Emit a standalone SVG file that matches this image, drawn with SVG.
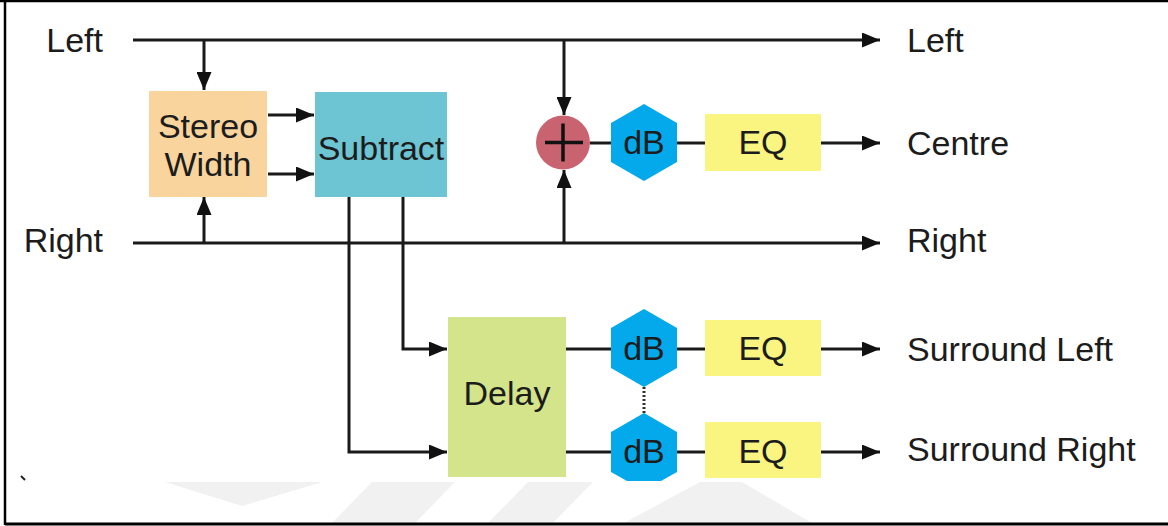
<svg xmlns="http://www.w3.org/2000/svg" width="1168" height="526" viewBox="0 0 1168 526">
<defs>
<marker id="arr" markerUnits="userSpaceOnUse" markerWidth="18" markerHeight="15" refX="18" refY="7.5" orient="auto">
<path d="M0,0 L18,7.5 L0,15 z" fill="#111"/>
</marker>
<style>
text{font-family:"Liberation Sans",Arial,sans-serif;font-size:34px;fill:#1c1c1c}
.c{text-anchor:middle}
.e{text-anchor:end}
.ln{fill:none;stroke:#1a1a1a;stroke-width:3}
.a{marker-end:url(#arr)}
.hex{fill:#03A9EA}
.eq{fill:#FAF481}
.wm{fill:#F1F1F1}
</style>
</defs>
<rect x="0" y="0" width="1168" height="526" fill="#fff"/>
<g id="watermark">
<polygon class="wm" points="165,482 322,482 242,506"/>
<polygon class="wm" points="372,482 455,482 415,523 332,523"/>
<polygon class="wm" points="528,482 593,482 553,523 488,523"/>
<polygon class="wm" points="700,482 742,482 812,523 624,523"/>
</g>
<g id="connectors">
<path class="ln a" d="M133 40 H880"/>
<path class="ln a" d="M133 243 H880"/>
<path class="ln a" d="M204 40 V90"/>
<path class="ln a" d="M204 243 V197"/>
<path class="ln a" d="M564 40 V115"/>
<path class="ln a" d="M564 243 V170"/>
<path class="ln a" d="M268 115 H314"/>
<path class="ln a" d="M268 174 H314"/>
<path class="ln a" d="M403 197 V349 H447"/>
<path class="ln a" d="M349 197 V452 H447"/>
<path class="ln" d="M590 143 H611"/>
<path class="ln" d="M677 143 H705"/>
<path class="ln a" d="M821 143 H880"/>
<path class="ln" d="M566 349 H611"/>
<path class="ln" d="M677 349 H705"/>
<path class="ln a" d="M821 349 H880"/>
<path class="ln" d="M566 452 H611"/>
<path class="ln" d="M677 452 H705"/>
<path class="ln a" d="M821 452 H880"/>
<path d="M644 387 V413" fill="none" stroke="#333" stroke-width="3" stroke-dasharray="2 2"/>
</g>
<g id="in-left"><text class="e" x="103" y="52">Left</text></g>
<g id="in-right"><text class="e" x="103" y="252">Right</text></g>
<g id="stereo-width">
<rect x="149" y="91" width="118" height="106" fill="#F9D49D"/>
<text class="c" x="208" y="138">Stereo</text>
<text class="c" x="208" y="176">Width</text>
</g>
<g id="subtract">
<rect x="315" y="92" width="132" height="105" fill="#6DC4D3"/>
<text class="c" x="381" y="160">Subtract</text>
</g>
<g id="sum">
<circle cx="563" cy="142.5" r="27" fill="#C8636F"/>
<path d="M545 142.5 H583 M563 123.5 V161.5" stroke="#111" stroke-width="3.5"/>
</g>
<g id="db-centre">
<polygon class="hex" points="644,104 677,123 677,162 644,181 611,162 611,123"/>
<text class="c" x="644" y="154">dB</text>
</g>
<g id="eq-centre">
<rect class="eq" x="705" y="114" width="116" height="57"/>
<text class="c" x="763" y="154">EQ</text>
</g>
<g id="delay">
<rect x="448" y="317" width="118" height="160" fill="#D4E48A"/>
<text class="c" x="507" y="405">Delay</text>
</g>
<g id="db-sl">
<polygon class="hex" points="644,309 677,328 677,368 644,387 611,368 611,328"/>
<text class="c" x="644" y="360">dB</text>
</g>
<g id="db-sr">
<polygon class="hex" points="644,413 677,432 677,472 661,481 627,481 611,472 611,432"/>
<text class="c" x="644" y="463">dB</text>
</g>
<g id="eq-sl">
<rect class="eq" x="705" y="320" width="116" height="56"/>
<text class="c" x="763" y="360">EQ</text>
</g>
<g id="eq-sr">
<rect class="eq" x="705" y="422" width="116" height="56"/>
<text class="c" x="763" y="463">EQ</text>
</g>
<g id="out-left"><text x="907" y="52">Left</text></g>
<g id="out-centre"><text x="907" y="155">Centre</text></g>
<g id="out-right"><text x="907" y="252">Right</text></g>
<g id="out-sl"><text x="907" y="361">Surround Left</text></g>
<g id="out-sr"><text x="907" y="461">Surround Right</text></g>
<path d="M21 476 L25 480" stroke="#222" stroke-width="2"/>
<g id="frame" fill="none" stroke="#000">
<path d="M0 1 H1168" stroke-width="2.5"/>
<path d="M5 0 V525" stroke-width="2.5"/>
<path d="M5 524 H1168" stroke-width="3"/>
</g>
</svg>
